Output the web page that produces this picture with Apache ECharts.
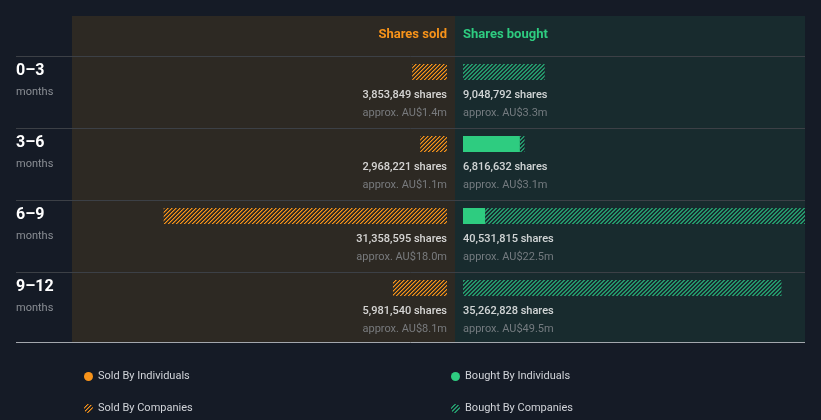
<!DOCTYPE html>
<html><head><meta charset="utf-8">
<script src="https://cdn.jsdelivr.net/npm/echarts@6/dist/echarts.min.js"></script>
<style>html,body{margin:0;padding:0;background:#151b26;}#c{width:821px;height:420px;}</style>
</head><body><div id="c"></div>
<script>
const categories = ['0–3', '3–6', '6–9', '9–12'];
const soldByIndividuals = [0, 0, 0, 0];
const soldByCompanies = [3853849, 2968221, 31358595, 5981540];
const boughtByIndividuals = [0, 6300000, 2450000, 0];
const boughtByCompanies = [9048792, 516632, 38081815, 35262828];
const soldApprox = ['AU$1.4m', 'AU$1.1m', 'AU$18.0m', 'AU$8.1m'];
const boughtApprox = ['AU$3.3m', 'AU$3.1m', 'AU$22.5m', 'AU$49.5m'];

const ORANGE = '#f7931a', GREEN = '#2ecc80', GREEN_HATCH = '#24966a';
function hatchPix(color, sideAlpha) {
  const c = document.createElement('canvas');
  c.width = 4; c.height = 4;
  const g = c.getContext('2d');
  g.fillStyle = color;
  for (let x = 0; x < 4; x++) g.fillRect(x, 3 - x, 1, 1);
  g.globalAlpha = sideAlpha;
  for (let x = 0; x < 4; x++) g.fillRect((x + 1) % 4, 3 - x, 1, 1);
  return { image: c, repeat: 'repeat' };
}
const fmt = n => n.toLocaleString('en-US');
const soldTotal = soldByCompanies.map((v, i) => v + soldByIndividuals[i]);
const boughtTotal = boughtByCompanies.map((v, i) => v + boughtByIndividuals[i]);

const chart = echarts.init(document.getElementById('c'), null, { devicePixelRatio: 1 });
const FONT = 'Roboto';
const graphics = [
  { type: 'rect', z: -10, shape: { x: 72, y: 16, width: 383, height: 327 }, style: { fill: '#2d2923' } },
  { type: 'rect', z: -10, shape: { x: 455, y: 16, width: 350, height: 327 }, style: { fill: '#182b2e' } },
  { type: 'text', x: 447, y: 35, style: { text: 'Shares sold', fill: ORANGE, font: 'bold 13px ' + FONT, textAlign: 'right', textVerticalAlign: 'middle' } },
  { type: 'text', x: 463, y: 35, style: { text: 'Shares bought', fill: GREEN, font: 'bold 13px ' + FONT, textAlign: 'left', textVerticalAlign: 'middle' } },
  { type: 'line', z: -5, shape: { x1: 16, y1: 342.5, x2: 805, y2: 342.5 }, style: { stroke: '#a3a7ad', lineWidth: 1 } }
];
categories.forEach((c, i) => {
  graphics.push({ type: 'line', z: -5, shape: { x1: 16, y1: 56.5 + 72 * i, x2: 805, y2: 56.5 + 72 * i }, style: { stroke: '#3c4046', lineWidth: 1 } });
  graphics.push({ type: 'text', x: 16, y: 71 + 72 * i, style: { text: c, fill: '#ffffff', font: 'bold 16px ' + FONT, textVerticalAlign: 'middle' } });
  graphics.push({ type: 'text', x: 16, y: 92.5 + 72 * i, style: { text: 'months', fill: '#8a8e94', font: '11px ' + FONT, textVerticalAlign: 'middle' } });
});

const rich = (align) => ({
  a: { color: '#ffffff', fontSize: 11, fontWeight: 500, fontFamily: FONT, lineHeight: 18, align: align },
  b: { color: '#8b8f94', fontSize: 11, fontFamily: FONT, lineHeight: 18, align: align }
});

const legendBase = { itemWidth: 9, itemHeight: 9, icon: 'circle',
  textStyle: { color: '#d0d3d8', fontSize: 11, fontFamily: FONT } };

chart.setOption({
  backgroundColor: '#151b26',
  animation: false,
  graphic: graphics,
  grid: [
    { left: 72, width: 375, top: 36, height: 288 },
    { left: 463, width: 342, top: 36, height: 288 }
  ],
  xAxis: [
    { gridIndex: 0, type: 'value', inverse: true, min: 0, max: 41.5e6, show: false },
    { gridIndex: 1, type: 'value', min: 0, max: 37.87e6, show: false }
  ],
  yAxis: [
    { gridIndex: 0, type: 'category', data: categories, inverse: true, show: false },
    { gridIndex: 1, type: 'category', data: categories, inverse: true, show: false }
  ],
  legend: [
    Object.assign({ left: 79, top: 366, data: ['Sold By Individuals'] }, legendBase),
    Object.assign({ left: 79, top: 398, data: ['Sold By Companies'] }, legendBase),
    Object.assign({ left: 446, top: 366, data: ['Bought By Individuals'] }, legendBase),
    Object.assign({ left: 446, top: 398, data: ['Bought By Companies'] }, legendBase)
  ],
  series: [
    { name: 'Sold By Individuals', type: 'bar', xAxisIndex: 0, yAxisIndex: 0, stack: 's', barWidth: 16, data: soldByIndividuals, itemStyle: { color: ORANGE } },
    { name: 'Sold By Companies', type: 'bar', xAxisIndex: 0, yAxisIndex: 0, stack: 's', barWidth: 16, data: soldByCompanies, itemStyle: { color: hatchPix(ORANGE, 0.5) } },
    { name: 'Bought By Individuals', type: 'bar', xAxisIndex: 1, yAxisIndex: 1, stack: 'b', barWidth: 16, data: boughtByIndividuals, itemStyle: { color: GREEN } },
    { name: 'Bought By Companies', type: 'bar', xAxisIndex: 1, yAxisIndex: 1, stack: 'b', barWidth: 16, data: boughtByCompanies, itemStyle: { color: hatchPix(GREEN_HATCH, 1) } },
    { type: 'scatter', xAxisIndex: 0, yAxisIndex: 0, symbolSize: 1, itemStyle: { color: 'rgba(0,0,0,0)' }, silent: true,
      data: categories.map(() => 0),
      label: { show: true, position: 'inside', align: 'right', verticalAlign: 'middle', offset: [0, 32],
        formatter: p => '{a|' + fmt(soldTotal[p.dataIndex]) + ' shares}\n{b|approx. ' + soldApprox[p.dataIndex] + '}', rich: rich('right') } },
    { type: 'scatter', xAxisIndex: 1, yAxisIndex: 1, symbolSize: 1, itemStyle: { color: 'rgba(0,0,0,0)' }, silent: true,
      data: categories.map(() => 0),
      label: { show: true, position: 'inside', align: 'left', verticalAlign: 'middle', offset: [0, 32],
        formatter: p => '{a|' + fmt(boughtTotal[p.dataIndex]) + ' shares}\n{b|approx. ' + boughtApprox[p.dataIndex] + '}', rich: rich('left') } }
  ]
});
</script></body></html>
